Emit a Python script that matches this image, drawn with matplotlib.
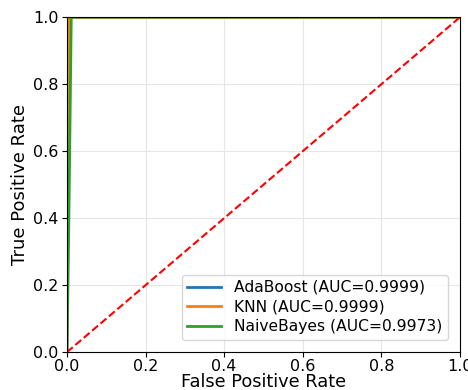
import matplotlib
matplotlib.use('Agg')
import matplotlib.pyplot as plt

# ROC curves
ada_fpr = [0.0, 0.0, 0.002, 0.004, 1.0]
ada_tpr = [0.0, 0.6, 0.98, 1.0, 1.0]
ada_auc = 0.9999

knn_fpr = [0.0, 0.003, 0.006, 1.0]
knn_tpr = [0.0, 0.5, 1.0, 1.0]
knn_auc = 0.9999

nb_fpr = [0.0, 0.002, 0.005, 0.008, 0.011, 1.0]
nb_tpr = [0.0, 0.15, 0.4, 0.7, 1.0, 1.0]
nb_auc = 0.9973

fig = plt.figure(figsize=(4.68, 3.9), dpi=100)
ax = fig.add_axes([0.143, 0.097, 0.84, 0.859])

ax.plot(ada_fpr, ada_tpr, color='#1f77b4', lw=2, label=f'AdaBoost (AUC={ada_auc:.4f})')
ax.plot(knn_fpr, knn_tpr, color='#ff7f0e', lw=2, label=f'KNN (AUC={knn_auc:.4f})')
ax.plot(nb_fpr, nb_tpr, color='#2ca02c', lw=2, label=f'NaiveBayes (AUC={nb_auc:.4f})')
ax.plot([0, 1], [0, 1], color='red', ls='--', lw=1.5)

ax.set_xlim(0, 1)
ax.set_ylim(0, 1)
ax.grid(True, color='#e6e6e6', lw=0.8)
ax.set_axisbelow(True)
ax.tick_params(labelsize=11.5, pad=2.5)
ax.tick_params(axis='x', pad=1.5)
ax.set_xlabel('False Positive Rate', fontsize=12.8, labelpad=-1)
ax.set_ylabel('True Positive Rate', fontsize=13, labelpad=3)
ax.legend(loc='lower right', fontsize=11.2, borderpad=0.35, labelspacing=0.3,
          handlelength=2.2, borderaxespad=0.8)

fig.savefig('out.png', dpi=100)
